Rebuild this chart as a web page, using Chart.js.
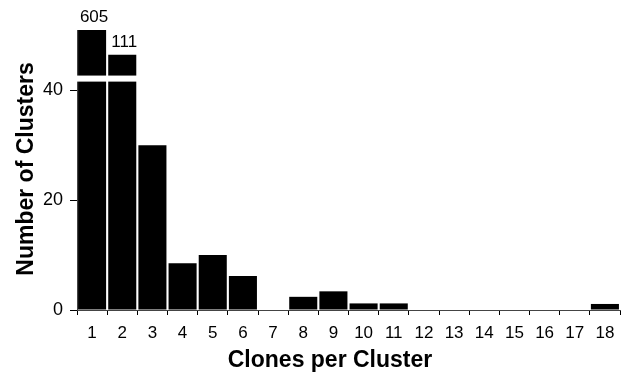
<!DOCTYPE html>
<html>
<head>
<meta charset="utf-8">
<script src="https://cdn.jsdelivr.net/npm/chart.js@4/dist/chart.umd.min.js"></script>
<style>
  html, body { margin: 0; padding: 0; background: #fff; }
  canvas { display: block; }
</style>
</head>
<body>
<canvas id="clusterChart" width="629" height="375"></canvas>
<script>
// Values
const categories = ['1', '2', '3', '4', '5', '6', '7', '8', '9', '10', '11', '12', '13', '14', '15', '16', '17', '18'];
const clusterCounts = [605, 111, 30, 8.5, 10, 6.2, 0, 2.4, 3.4, 1.2, 1.2, 0, 0, 0, 0, 0, 0, 1.1];
// Bars that run past the axis break are drawn to these heights (axis units)
const clippedTops = [51, 46.5];
const yTicks = [0, 20, 40];
const yMax = 51;
const axisBreak = [41.6, 42.7];

const drawnValues = clusterCounts.map((v, i) => (v > yMax ? clippedTops[i] : v));

const FONT = "'Liberation Sans', Arial, Helvetica, sans-serif";

// Draws the white break band, the labels on the cut bars and the axis titles
const brokenAxisPlugin = {
    id: 'brokenAxis',
    afterDatasetsDraw(chart) {
        const ctx = chart.ctx;
        const y = chart.scales.y;
        const bars = chart.getDatasetMeta(0).data;
        const cut = clusterCounts.map((v, i) => v > yMax ? i : -1).filter(i => i >= 0);
        if (!cut.length) return;

        const last = bars[cut[cut.length - 1]];
        const top = y.getPixelForValue(axisBreak[1]);
        const bottom = y.getPixelForValue(axisBreak[0]);
        ctx.save();
        ctx.fillStyle = '#fff';
        ctx.fillRect(chart.chartArea.left - 3, top, last.x + last.width / 2 + 4 - chart.chartArea.left, bottom - top);

        ctx.fillStyle = '#000';
        ctx.font = '17px ' + FONT;
        ctx.textAlign = 'center';
        ctx.textBaseline = 'alphabetic';
        cut.forEach(i => {
            const bar = bars[i];
            ctx.fillText(String(clusterCounts[i]), bar.x + 2, bar.y - 8);
        });
        ctx.restore();
    },
    afterDraw(chart) {
        const ctx = chart.ctx;
        ctx.save();
        ctx.fillStyle = '#000';
        ctx.font = 'bold 23px ' + FONT;
        ctx.textAlign = 'center';
        ctx.textBaseline = 'alphabetic';
        ctx.fillText('Clones per Cluster', 330, 367);

        ctx.translate(33, 169);
        ctx.rotate(-Math.PI / 2);
        ctx.fillText('Number of Clusters', 0, 0);
        ctx.restore();
    }
};

new Chart(document.getElementById('clusterChart'), {
    type: 'bar',
    data: {
        labels: categories,
        datasets: [{
            data: drawnValues,
            backgroundColor: '#000',
            borderWidth: 0,
            barPercentage: 0.93,
            categoryPercentage: 1.0
        }]
    },
    options: {
        responsive: false,
        animation: false,
        layout: { padding: { top: 30, right: 9, bottom: 0, left: 0 } },
        plugins: {
            legend: { display: false },
            tooltip: { enabled: false }
        },
        scales: {
            x: {
                grid: {
                    offset: true,
                    drawOnChartArea: false,
                    drawTicks: true,
                    tickLength: 5,
                    color: '#000'
                },
                border: { color: '#444', width: 1 },
                ticks: {
                    color: '#000',
                    padding: 8,
                    maxRotation: 0,
                    autoSkip: false,
                    font: { family: FONT, size: 17 }
                },
                afterFit(scale) { scale.height = 65; }
            },
            y: {
                min: 0,
                max: yMax,
                grid: {
                    drawOnChartArea: false,
                    drawTicks: true,
                    tickLength: 7,
                    color: '#000'
                },
                border: { color: '#444', width: 1 },
                ticks: {
                    color: '#000',
                    padding: 7,
                    font: { family: FONT, size: 18 }
                },
                afterBuildTicks(scale) {
                    scale.ticks = yTicks.map(v => ({ value: v }));
                },
                afterFit(scale) { scale.width = 77; }
            }
        }
    },
    plugins: [brokenAxisPlugin]
});
</script>
</body>
</html>
